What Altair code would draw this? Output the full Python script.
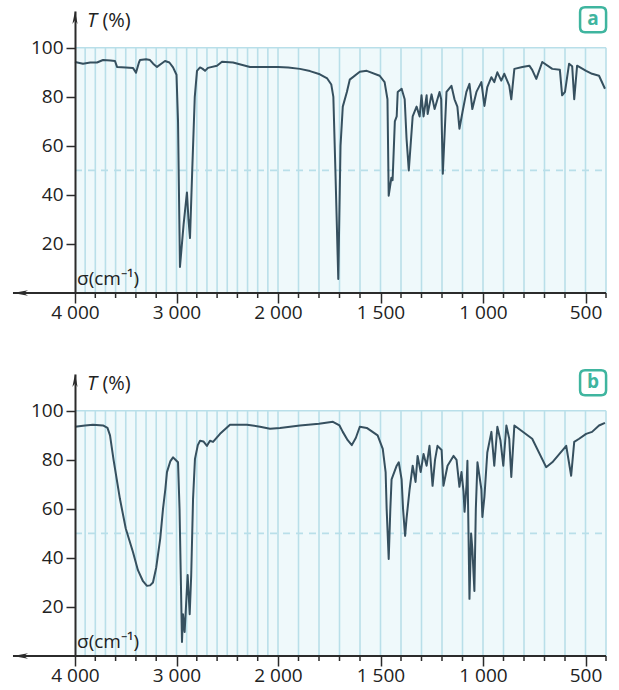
import altair as alt
import pandas as pd

# ---------------- data ----------------
A_SIGMA = [4000, 3921, 3850, 3783, 3724, 3650, 3606, 3586, 3500, 3429, 3399, 3370, 3360, 3300,
           3261, 3230, 3192, 3150, 3113, 3070, 3034, 3000, 2985, 2966, 2930, 2897, 2882, 2867,
           2845, 2820, 2798, 2768, 2745, 2719, 2690, 2670, 2601, 2552, 2443, 2276, 2000, 1950,
           1893, 1844, 1796, 1760, 1740, 1730, 1720, 1706, 1695, 1684, 1664, 1650, 1601, 1567,
           1504, 1480, 1466, 1460, 1447, 1441, 1430, 1421, 1416, 1397, 1382, 1373, 1362, 1343,
           1324, 1309, 1300, 1290, 1275, 1270, 1251, 1236, 1212, 1204, 1196, 1178, 1154, 1139,
           1125, 1115, 1100, 1081, 1066, 1052, 1032, 1008, 993, 979, 959, 945, 930, 911, 896,
           872, 862, 847, 808, 774, 760, 740, 711, 662, 625, 614, 600, 580, 565, 555, 541, 497,
           468, 434, 405]
A_T = [94.2, 93.5, 94.0, 94.0, 95.0, 94.8, 94.6, 92.2, 92.0, 91.8, 89.8, 94.0, 95.0, 95.3,
       95.0, 93.5, 92.2, 93.5, 94.6, 94.0, 92.0, 89.0, 70.0, 10.6, 28.0, 41.0, 30.0, 22.4,
       50.0, 80.0, 90.6, 92.0, 91.5, 90.6, 91.8, 92.0, 92.7, 94.3, 94.0, 92.2, 92.2, 92.0,
       91.4, 90.5, 89.2, 87.5, 85.0, 80.0, 50.0, 5.7, 60.0, 76.0, 82.0, 87.0, 90.2, 90.6,
       88.6, 86.0, 79.0, 39.7, 47.0, 46.0, 70.0, 72.0, 82.0, 83.3, 79.0, 63.0, 50.0, 72.0,
       76.0, 72.0, 80.6, 72.0, 80.6, 73.0, 81.0, 75.0, 82.0, 79.0, 48.6, 82.0, 84.5, 79.0,
       76.0, 67.0, 73.8, 82.0, 85.3, 75.0, 82.0, 86.0, 76.3, 84.0, 88.0, 86.0, 90.0, 86.6, 89.4,
       84.6, 79.0, 91.4, 92.2, 92.7, 91.0, 87.3, 94.2, 91.4, 91.0, 80.6, 82.0, 93.5, 92.5, 79.0, 92.7, 90.6,
       89.4, 88.6, 83.3]

B_SIGMA = [4000, 3900, 3823, 3724, 3680, 3655, 3620, 3557, 3500, 3429, 3380, 3330, 3291, 3260,
           3232, 3200, 3160, 3133, 3110, 3094, 3060, 3034, 3010, 2985, 2970, 2946, 2936, 2920,
           2890, 2870, 2855, 2837, 2818, 2790, 2768, 2735, 2700, 2670, 2640, 2571, 2473, 2305,
           2177, 2079, 1990, 1893, 1800, 1732, 1700, 1684, 1660, 1640, 1620, 1601, 1567, 1514,
           1489, 1475, 1470, 1460, 1452, 1446, 1421, 1411, 1397, 1390, 1380, 1373, 1358, 1343,
           1329, 1319, 1304, 1290, 1275, 1261, 1246, 1234, 1222, 1202, 1193, 1173, 1144, 1129,
           1115, 1105, 1095, 1090, 1080, 1076, 1066, 1058, 1052, 1042, 1035, 1027, 1008, 1003,
           993, 979, 959, 945, 930, 915, 901, 886, 872, 862, 847, 760, 692, 662, 594, 570, 555,
           531, 497, 468, 434, 405]
B_T = [93.5, 94.0, 94.3, 94.0, 93.0, 90.0, 80.0, 64.0, 52.0, 42.4, 35.0, 30.5, 28.6, 28.8,
       30.0, 36.0, 48.0, 60.0, 68.0, 75.0, 79.5, 81.0, 80.0, 79.0, 60.0, 5.7, 17.0, 9.8,
       33.0, 17.0, 33.0, 64.0, 80.4, 86.0, 87.8, 87.5, 85.7, 87.8, 87.3, 90.6, 94.3, 94.3,
       93.5, 92.7, 93.0, 94.0, 94.7, 95.5, 94.0, 91.4, 88.0, 86.0, 89.0, 93.5, 93.0, 90.0,
       84.5, 75.0, 60.0, 39.6, 60.0, 72.0, 77.6, 79.0, 72.0, 60.0, 49.0, 56.0, 68.0, 77.6,
       71.0, 81.6, 75.0, 82.4, 77.6, 85.7, 69.4, 80.0, 85.7, 84.0, 69.4, 77.6, 81.6, 80.0,
       69.0, 75.0, 67.0, 58.8, 70.0, 79.6, 23.3, 50.0, 43.7, 26.5, 60.0, 79.0, 68.0, 56.7,
       65.0, 83.0, 91.4, 77.6, 93.5, 88.0, 77.6, 94.0, 88.6, 73.0, 94.0, 88.6, 77.0, 79.0, 85.7, 73.5, 87.3,
       88.6, 90.6, 91.4, 94.0, 95.1]

MAJOR_TICKS = [4000, 3000, 2000, 1500, 1000, 500]
MINOR_TICKS = [v for v in list(range(4000, 2000, -200)) + list(range(2000, 399, -100))
               if v not in MAJOR_TICKS]
GRID = list(range(3900, 399, -100))
Y_TICKS = [20, 40, 60, 80, 100]
PANEL_LETTERS = ["a", "b"]

# ---------------- styles ----------------
FONT = "Open Sans"
LINE = "#36505f"
GRIDC = "#b9dfe9"
BG = "#eff9fb"
TEAL = "#3fb59f"
AXC = "#2b2b2b"
TXT = "#222222"

# piecewise-linear wavenumber axis (scale change at 2000 cm-1)
xs = alt.Scale(domain=[4000, 2000, 400], range=[0, 203, 531], nice=False, zero=False)
ys = alt.Scale(domain=[0, 115], nice=False, zero=False)

x_axis = alt.Axis(
    values=MAJOR_TICKS, title=None, grid=False, orient="bottom", domain=False,
    tickColor=AXC, tickWidth=1.5, tickSize=10,
    labelExpr="replace(format(datum.value, ','), ',', ' ')",
    labelFont=FONT, labelFontSize=19, labelColor=TXT, labelPadding=0,
    labelOverlap=False, labelFlush=False, zindex=1,
)
y_axis = alt.Axis(
    values=Y_TICKS, title=None, grid=False, orient="left", domainColor=AXC, domainWidth=2,
    tickColor=AXC, tickWidth=1.5, tickSize=9, labelFont=FONT, labelFontSize=19,
    labelColor=TXT, labelPadding=3, zindex=1,
)

BOX = ("M-0.62,-0.96L0.62,-0.96Q1,-0.96 1,-0.58L1,0.58Q1,0.96 0.62,0.96L-0.62,0.96"
       "Q-1,0.96 -1,0.58L-1,-0.58Q-1,-0.96 -0.62,-0.96Z")
ARROW_L = "M0,0L2,-0.38L1.44,0L2,0.38Z"
ARROW_U = "M0,0L0.4,2L0,1.44L-0.4,2Z"


def X(v):
    return alt.X(datum=v, scale=xs, axis=x_axis)


def Y(v):
    return alt.Y(datum=v, scale=ys, axis=y_axis)


def XF(f):
    return alt.X(f, type="quantitative", scale=xs, axis=x_axis)


def YF(f):
    return alt.Y(f, type="quantitative", scale=ys, axis=y_axis)


def panel(sig, T, letter):
    d = pd.DataFrame({"sigma": sig, "T": T})
    bg = alt.Chart(pd.DataFrame({"s1": [4000], "s2": [400], "t1": [0], "t2": [100]})).mark_rect(
        color=BG).encode(x=XF("s1"), x2="s2:Q", y=YF("t1"), y2="t2:Q")
    grid = alt.Chart(pd.DataFrame({"sigma": GRID})).mark_rule(color=GRIDC, strokeWidth=1.6).encode(
        x=XF("sigma"), y=Y(0), y2=alt.Y2(datum=100))
    top = alt.Chart().mark_rule(color=GRIDC, strokeWidth=1.6).encode(
        x=X(4000), x2=alt.X2(datum=400), y=Y(100))
    half = alt.Chart().mark_rule(color=GRIDC, strokeWidth=1.6, strokeDash=[7, 6]).encode(
        x=X(4000), x2=alt.X2(datum=400), y=Y(50))
    minor = alt.Chart(pd.DataFrame({"sigma": MINOR_TICKS})).mark_rule(color=AXC, strokeWidth=1.5).encode(
        x=XF("sigma"), y=Y(0), y2=alt.Y2(datum=-2.05))
    xline = alt.Chart().mark_rule(color=AXC, strokeWidth=2).encode(
        x=X(4611), x2=alt.X2(datum=400), y=Y(0))
    line = alt.Chart(d).mark_line(color=LINE, strokeWidth=2, strokeJoin="round").encode(
        x=XF("sigma"), y=YF("T"))
    xarrow = alt.Chart().mark_point(shape=ARROW_L, size=225, filled=True, color=AXC, opacity=1,
                                    strokeWidth=0).encode(x=X(4611), y=Y(0))
    yarrow = alt.Chart().mark_point(shape=ARROW_U, size=169, filled=True, color=AXC, opacity=1,
                                    strokeWidth=0).encode(x=X(4000), y=Y(115))
    tlab = alt.Chart().mark_text(text="T", font=FONT, fontSize=20, fontStyle="italic", align="left",
                                 baseline="alphabetic", color=TXT).encode(x=X(3882), y=Y(108.6))
    plab = alt.Chart().mark_text(text="(%)", font=FONT, fontSize=20, align="left",
                                 baseline="alphabetic", color=TXT).encode(x=X(3730), y=Y(108.6))
    slab = alt.Chart().mark_text(text="σ(cm⁻¹)", font=FONT, fontSize=19, align="left",
                                 baseline="alphabetic", color=TXT).encode(x=X(3980), y=Y(3.2))
    box = alt.Chart().mark_point(shape=BOX, size=676, fill="white", stroke=TEAL, strokeWidth=2.5,
                                 opacity=1, fillOpacity=1).encode(x=X(463), y=Y(111.4))
    let = alt.Chart().mark_text(text=letter, font=FONT, fontSize=19, fontWeight="bold", align="center",
                                baseline="middle", color=TEAL, dy=-1).encode(x=X(463), y=Y(111.4))
    return alt.layer(bg, grid, top, half, minor, xline, line, xarrow, yarrow, tlab, plab, slab,
                     box, let).properties(width=531, height=282)


chart = alt.vconcat(
    panel(A_SIGMA, A_T, PANEL_LETTERS[0]),
    panel(B_SIGMA, B_T, PANEL_LETTERS[1]),
    spacing=81, bounds="flush",
).properties(padding={"left": 11, "top": 2, "right": 0, "bottom": 5}).configure_view(stroke=None)

chart.save("out.html", embed_options={"renderer": "svg", "actions": False})
